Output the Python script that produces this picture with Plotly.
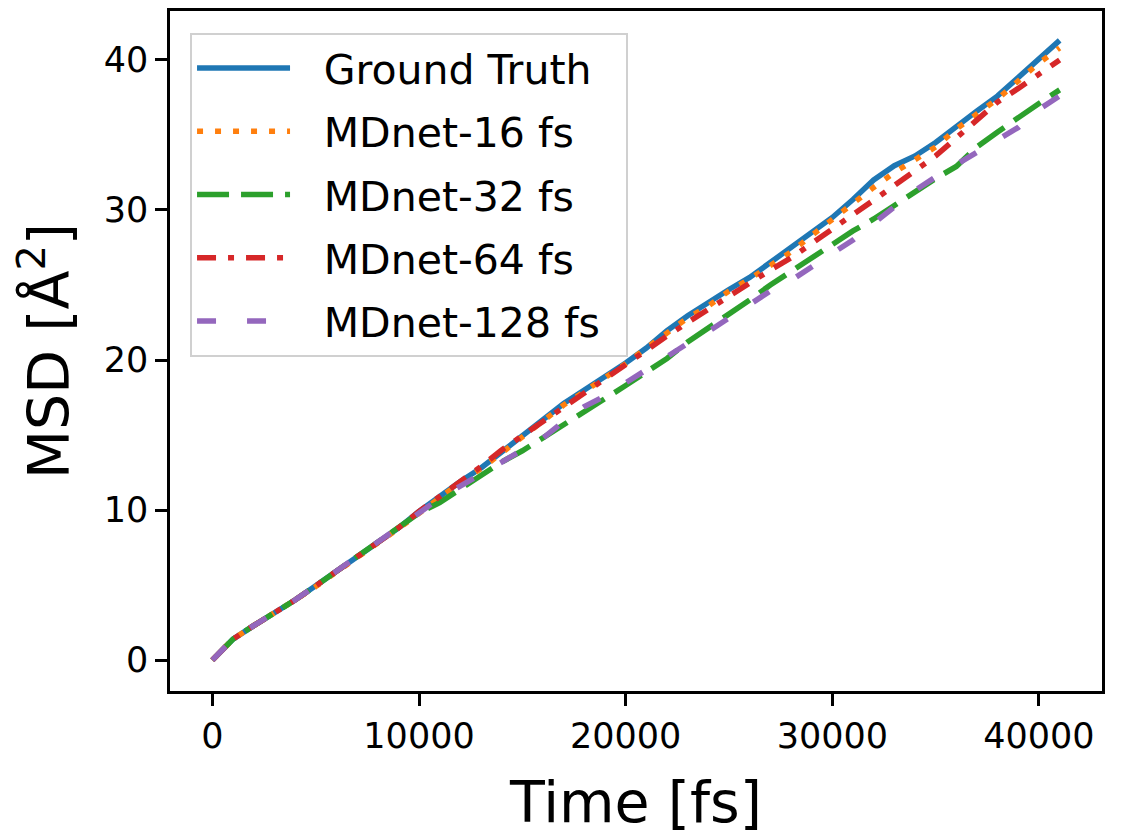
import plotly.graph_objs as go

# time axis [fs], one sample every 1000 fs
time_fs = list(range(0, 41001, 1000))

# MSD [A^2]
msd_truth = [0.0, 1.4, 2.3, 3.1, 4.0, 4.95, 5.9, 6.9, 7.8, 8.8, 9.9,
             10.95, 11.9, 12.8, 13.9, 14.9, 16.0, 17.1, 18.0, 18.85, 19.8,
             20.8, 21.95, 22.95, 23.85, 24.7, 25.5, 26.5, 27.4, 28.5, 29.5,
             30.7, 32.0, 32.95, 33.6, 34.5, 35.6, 36.6, 37.6, 38.8, 40.1, 41.3]
msd_16fs = [0.0, 1.4, 2.3, 3.1, 4.0, 4.9, 5.9, 6.85, 7.8, 8.75, 9.8,
            10.9, 11.85, 12.75, 13.8, 14.85, 15.95, 17.0, 17.9, 18.8, 19.75,
            20.8, 21.8, 22.8, 23.6, 24.6, 25.4, 26.3, 27.2, 28.3, 29.4,
            30.5, 31.5, 32.5, 33.3, 34.2, 35.4, 36.4, 37.4, 38.6, 39.8, 40.8]
msd_32fs = [0.0, 1.4, 2.3, 3.1, 4.0, 4.95, 5.9, 6.9, 7.8, 8.8, 9.8,
            10.5, 11.4, 12.4, 13.2, 13.95, 14.8, 15.7, 16.5, 17.4, 18.3,
            19.2, 20.1, 21.2, 22.1, 23.0, 24.0, 25.0, 25.9, 26.9, 27.7,
            28.6, 29.4, 30.3, 31.3, 32.1, 32.9, 34.2, 35.2, 36.2, 37.1, 38.0]
msd_64fs = [0.0, 1.4, 2.3, 3.1, 4.0, 4.95, 5.9, 6.9, 7.8, 8.8, 9.9,
            10.95, 11.9, 12.9, 14.0, 14.95, 15.9, 16.9, 17.9, 18.8, 19.8,
            20.7, 21.6, 22.5, 23.4, 24.3, 25.1, 26.0, 26.8, 27.8, 28.75,
            29.7, 30.65, 31.6, 32.6, 33.6, 34.8, 36.0, 37.2, 38.1, 39.1, 40.0]
msd_128fs = [0.0, 1.4, 2.3, 3.1, 4.0, 4.95, 5.9, 6.9, 7.8, 8.8, 9.8,
             10.8, 11.6, 12.4, 13.1, 13.9, 14.8, 15.9, 16.9, 17.6, 18.5,
             19.4, 20.3, 21.1, 21.9, 22.8, 23.8, 24.6, 25.3, 26.2, 27.1,
             28.0, 29.1, 30.2, 31.3, 32.2, 33.0, 33.8, 34.6, 35.5, 36.7, 37.6]

names = ['Ground Truth', 'MDnet-16 fs', 'MDnet-32 fs', 'MDnet-64 fs', 'MDnet-128 fs']
series = [msd_truth, msd_16fs, msd_32fs, msd_64fs, msd_128fs]
colors = ['#1f77b4', '#ff7f0e', '#2ca02c', '#d62728', '#9467bd']
dashes = ['solid', '6px,12px', '32px,12px', '19px,12px,6px,12px', '19px,31px']

x_ticks = [0, 10000, 20000, 30000, 40000]
y_ticks = [0, 10, 20, 30, 40]

fig = go.Figure()
for name, y, c, d in zip(names, series, colors, dashes):
    # en/thin spaces pad the legend text like matplotlib does
    fig.add_trace(go.Scatter(x=time_fs, y=y, name='\u2002\u2009' + name + '\u2002',
                             legendgroup=name, mode='lines',
                             line=dict(color=c, width=5.5, dash=d)))

font = 'DejaVu Sans'
axis = dict(showline=True, mirror=True, linecolor='black', linewidth=2.5,
            ticks='outside', ticklen=12, tickwidth=2.5, tickcolor='black',
            showgrid=False, zeroline=False, automargin=False,
            tickfont=dict(family=font, size=35, color='black'))

# the page body adds 8px on the top/left, margins account for it
fig.update_layout(
    width=1123, height=839,
    margin=dict(l=162, r=29, t=3, b=156),
    paper_bgcolor='white', plot_bgcolor='white',
    showlegend=True,
    legend=dict(x=0.0215, y=0.968, xanchor='left', yanchor='top',
                bgcolor='white', bordercolor='#d0d0d0', borderwidth=2,
                font=dict(family=font, size=41, color='black'),
                itemwidth=93, tracegroupgap=7),
)
fig.update_xaxes(axis, range=[-2050, 43050], tickvals=x_ticks,
                 ticktext=[str(v) for v in x_ticks],
                 title=dict(text='Time [fs]', font=dict(family=font, size=57, color='black'),
                            standoff=28))
fig.update_yaxes(axis, range=[-2.06, 43.26], tickvals=y_ticks,
                 ticktext=[str(v) for v in y_ticks],
                 title=dict(text='MSD [Å<sup>2</sup>]', font=dict(family=font, size=57, color='black'),
                            standoff=26))

fig.write_html("out.html")
